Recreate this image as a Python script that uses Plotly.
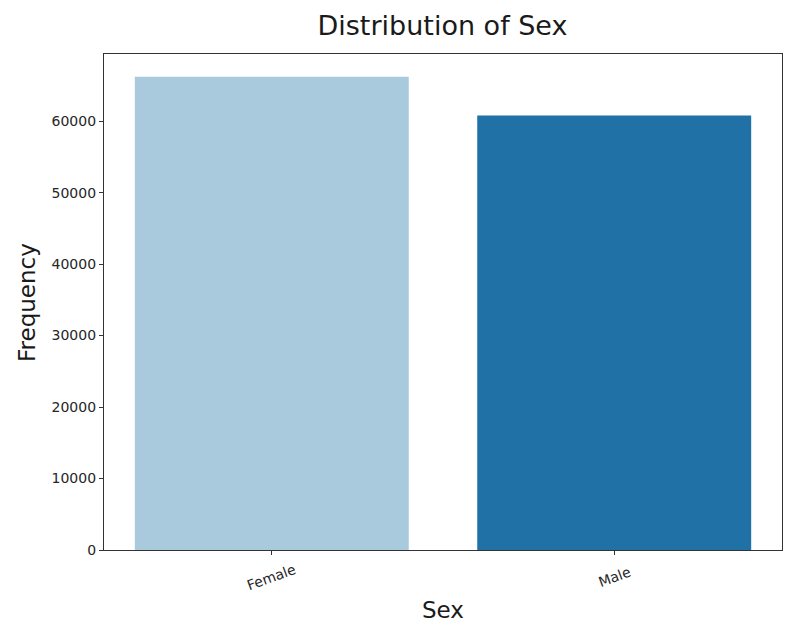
import plotly.graph_objects as go

categories = ["Female", "Male"]
counts = [66200, 60800]
bar_colors = ["#a9cadd", "#1f71a6"]
y_ticks = [0, 10000, 20000, 30000, 40000, 50000, 60000]

FONT = "DejaVu Sans"

fig = go.Figure(
    go.Bar(
        x=[0, 1],
        y=counts,
        width=0.8,
        marker=dict(color=bar_colors, line=dict(width=0)),
    )
)

axis_style = dict(
    showline=True,
    linecolor="#333333",
    linewidth=1.2,
    mirror=True,
    showgrid=False,
    zeroline=False,
    ticks="outside",
    ticklen=4,
    tickcolor="#333333",
    tickfont=dict(family=FONT, size=14, color="#262626"),
)

# x tick labels, rotated about their centre like matplotlib's rotation=20
tick_labels = [
    dict(
        x=i, y=0, xref="x", yref="y",
        text=name, showarrow=False, textangle=-20,
        xanchor="center", yanchor="middle", yshift=-27,
        font=dict(family=FONT, size=14, color="#262626"),
    )
    for i, name in enumerate(categories)
]

axis_titles = [
    dict(
        x=0.5, y=-0.121, xref="paper", yref="paper",
        text="Sex", showarrow=False,
        xanchor="center", yanchor="middle",
        font=dict(family=FONT, size=23, color="#1a1a1a"),
    ),
    dict(
        x=-0.1136, y=0.5, xref="paper", yref="paper",
        text="Frequency", showarrow=False, textangle=-90,
        xanchor="center", yanchor="middle",
        font=dict(family=FONT, size=23, color="#1a1a1a"),
    ),
]

fig.update_layout(
    width=790,
    height=620,
    margin=dict(l=96, r=16, t=46, b=78),
    paper_bgcolor="white",
    plot_bgcolor="white",
    showlegend=False,
    title=dict(
        text="Distribution of Sex",
        x=0.55,
        xanchor="center",
        y=0.971,
        yanchor="middle",
        font=dict(family=FONT, size=27, color="#1a1a1a"),
    ),
    xaxis=dict(
        axis_style,
        range=[-0.49, 1.49],
        tickvals=[0, 1],
        showticklabels=False,
    ),
    yaxis=dict(
        axis_style,
        range=[0, 69400],
        tickvals=y_ticks,
        tickformat="d",
    ),
    annotations=tick_labels + axis_titles,
)

fig.write_html("out.html")
